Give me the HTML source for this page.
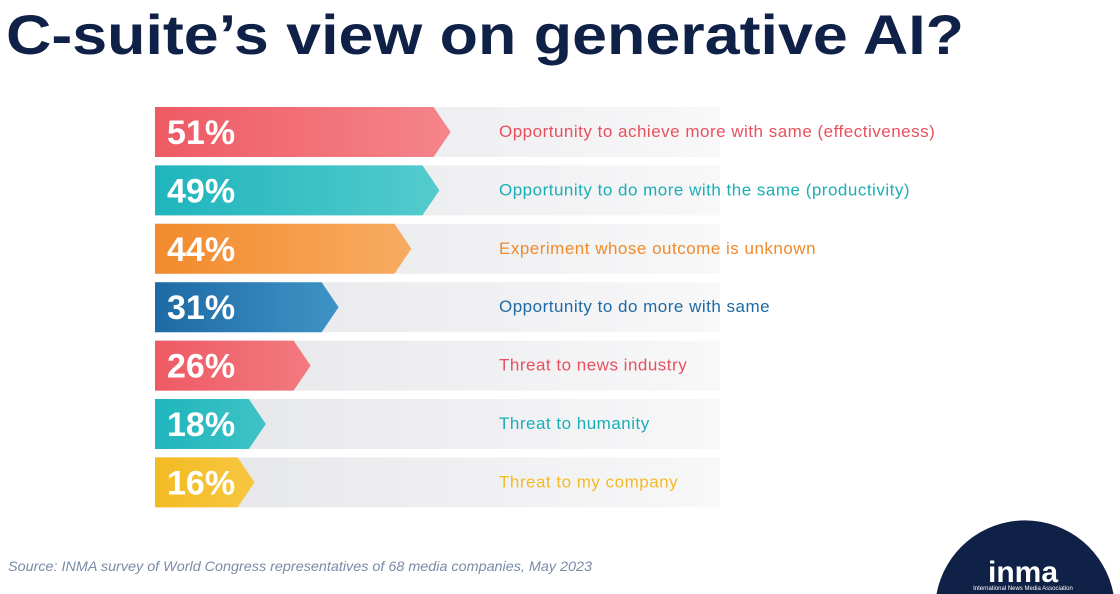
<!DOCTYPE html>
<html><head><meta charset="utf-8"><style>
html,body{margin:0;width:1120px;height:594px;overflow:hidden;background:#fff;font-family:"Liberation Sans",sans-serif}
svg{display:block}
</style></head><body>
<svg width="1120" height="594" viewBox="0 0 1120 594" overflow="hidden">
<defs>
<linearGradient id="bg" x1="0" x2="1"><stop offset="0" stop-color="#e4e5e8"/><stop offset="1" stop-color="#f8f8f9"/></linearGradient>
</defs>
<text x="6" y="54" font-size="56" font-weight="bold" fill="#0f2146" textLength="958" lengthAdjust="spacingAndGlyphs">C-suite’s view on generative AI?</text>
<g id="bars"></g>
<text x="8" y="571" font-size="14" font-style="italic" fill="#7a8aa8" textLength="584" lengthAdjust="spacingAndGlyphs">Source: INMA survey of World Congress representatives of 68 media companies, May 2023</text>
<path d="M936.5,594 A90,90 0 0 1 1113.5,594 Z" fill="#0f2146"/>
<text x="1023" y="582" font-size="30" font-weight="bold" fill="#fff" text-anchor="middle">inma</text>
<text x="1023" y="590" font-size="6" fill="#fff" text-anchor="middle">International News Media Association</text>
</svg>
<script>
const categories=["Opportunity to achieve more with same (effectiveness)","Opportunity to do more with the same (productivity)","Experiment whose outcome is unknown","Opportunity to do more with same","Threat to news industry","Threat to humanity","Threat to my company"];
const values=[51,49,44,31,26,18,16];
const colors=[["#ee5a64","#f5858b"],["#1fb5bd","#54cbcd"],["#f28a2c","#f7ac62"],["#1e6aa5","#3f93c6"],["#ee5a64","#f27a80"],["#1fb5bd","#3ec3c6"],["#f3bb23","#f7c740"]];
const textColors=["#e8505d","#1aaeb6","#f08a2a","#1e6aa5","#e8505d","#1aaeb6","#f3bb23"];
const x0=155, xScale=v=>165+v*5.6;
const yScale=i=>107+i*58.4, bh=50;
const g=document.getElementById('bars');
const NS="http://www.w3.org/2000/svg";
const defs=document.querySelector('defs');
values.forEach((v,i)=>{
  const y=yScale(i), tip=xScale(v), rEnd=tip-17;
  const gr=document.createElementNS(NS,'linearGradient');gr.id='g'+i;
  gr.innerHTML=`<stop offset="0" stop-color="${colors[i][0]}"/><stop offset="1" stop-color="${colors[i][1]}"/>`;
  defs.appendChild(gr);
  const band=document.createElementNS(NS,'rect');
  
  
  band.setAttribute('x',x0);band.setAttribute('y',y);band.setAttribute('width',720-x0);band.setAttribute('height',bh);band.setAttribute('fill','url(#bg)');
  g.appendChild(band);
  const p=document.createElementNS(NS,'polygon');
  
  
  p.setAttribute('points',`${x0},${y} ${rEnd},${y} ${tip},${y+bh/2} ${rEnd},${y+bh} ${x0},${y+bh}`);
  p.setAttribute('fill',`url(#g${i})`);
  g.appendChild(p);
  const t=document.createElementNS(NS,'text');
  
  
  t.setAttribute('x',167);t.setAttribute('y',y+37);t.setAttribute('font-size','34');t.setAttribute('font-weight','bold');t.setAttribute('fill','#fff');
  t.textContent=v+'%';g.appendChild(t);
  const c=document.createElementNS(NS,'text');
  
  
  c.setAttribute('x',499);c.setAttribute('y',y+30);c.setAttribute('font-size','17');c.setAttribute('letter-spacing','0.5');c.setAttribute('fill',textColors[i]);
  c.textContent=categories[i];g.appendChild(c);
});
</script>
</body></html>
